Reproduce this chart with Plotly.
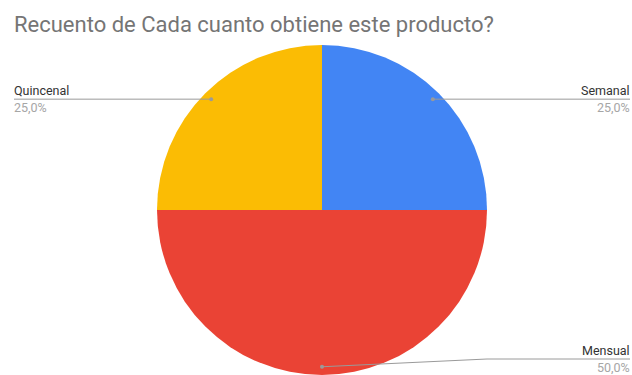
import math
import plotly.graph_objects as go

# Frequency categories and their response counts (share of total)
categories = ["Semanal", "Mensual", "Quincenal"]
values = [25, 50, 25]
colors = ["#4285F4", "#EA4335", "#FBBC04"]
title_text = "Recuento de Cada cuanto obtiene este producto?"

W, H = 632, 375

# Pie geometry in pixels (domain defines centre and radius)
dom_x = (157, 487)
dom_y_px = (45, 375)  # top / bottom in screen pixels
cx = (dom_x[0] + dom_x[1]) / 2
cy = (dom_y_px[0] + dom_y_px[1]) / 2
r = min(dom_x[1] - dom_x[0], dom_y_px[1] - dom_y_px[0]) / 2


def px(x):
    return x / W


def py(y):
    return 1 - y / H


fig = go.Figure(
    go.Pie(
        labels=categories,
        values=values,
        marker=dict(colors=colors, line=dict(width=0)),
        sort=False,
        direction="clockwise",
        rotation=0,
        textinfo="none",
        hoverinfo="label+percent",
        showlegend=False,
        domain=dict(x=[px(dom_x[0]), px(dom_x[1])],
                    y=[py(dom_y_px[1]), py(dom_y_px[0])]),
    )
)

shapes = []
annotations = []
total = sum(values)
cum = 0
line_col = "#9a9a9a"
for name, v in zip(categories, values):
    frac = (cum + v / 2) / total
    cum += v
    theta = 2 * math.pi * frac
    dx, dy = math.sin(theta), -math.cos(theta)
    dot_x = cx + 0.95 * r * dx
    dot_y = cy + 0.95 * r * dy
    # keep the label block inside the canvas
    line_y = min(dot_y, H - 16)
    right = dx > -1e-9
    edge_x = W - 2 if right else 14
    elbow_x = cx + r if right else cx - r
    if (right and dot_x < elbow_x) or (not right and dot_x > elbow_x):
        path = (f"M {px(dot_x)} {py(dot_y)} L {px(elbow_x)} {py(line_y)} "
                f"L {px(edge_x)} {py(line_y)}")
    else:
        path = f"M {px(dot_x)} {py(dot_y)} L {px(edge_x)} {py(line_y)}"
    shapes.append(dict(type="path", xref="paper", yref="paper", path=path,
                       line=dict(color=line_col, width=1)))
    shapes.append(dict(type="circle", xref="paper", yref="paper",
                       x0=px(dot_x - 2), x1=px(dot_x + 2),
                       y0=py(dot_y + 2), y1=py(dot_y - 2),
                       fillcolor=line_col, line=dict(width=0)))
    anchor = "right" if right else "left"
    pct = f"{100 * v / total:.1f}%".replace(".", ",")
    annotations.append(dict(x=px(edge_x), y=py(line_y - 1), xref="paper", yref="paper",
                            text=name, showarrow=False, xanchor=anchor, yanchor="bottom",
                            borderpad=0, borderwidth=0,
                            font=dict(family="Roboto", size=12.5, color="#333333")))
    annotations.append(dict(x=px(edge_x), y=py(line_y + 1), xref="paper", yref="paper",
                            text=pct, showarrow=False, xanchor=anchor, yanchor="top",
                            borderpad=0, borderwidth=0,
                            font=dict(family="Roboto", size=12.5, color="#a6a6a6")))

annotations.append(dict(x=px(12), y=py(10), xref="paper", yref="paper",
                        text=title_text, showarrow=False, xanchor="left", yanchor="top",
                        font=dict(family="Roboto", size=22, color="#757575")))

fig.update_layout(
    width=W, height=H,
    margin=dict(l=0, r=0, t=0, b=0),
    paper_bgcolor="white",
    plot_bgcolor="white",
    shapes=shapes,
    annotations=annotations,
)

fig.write_html("out.html")
